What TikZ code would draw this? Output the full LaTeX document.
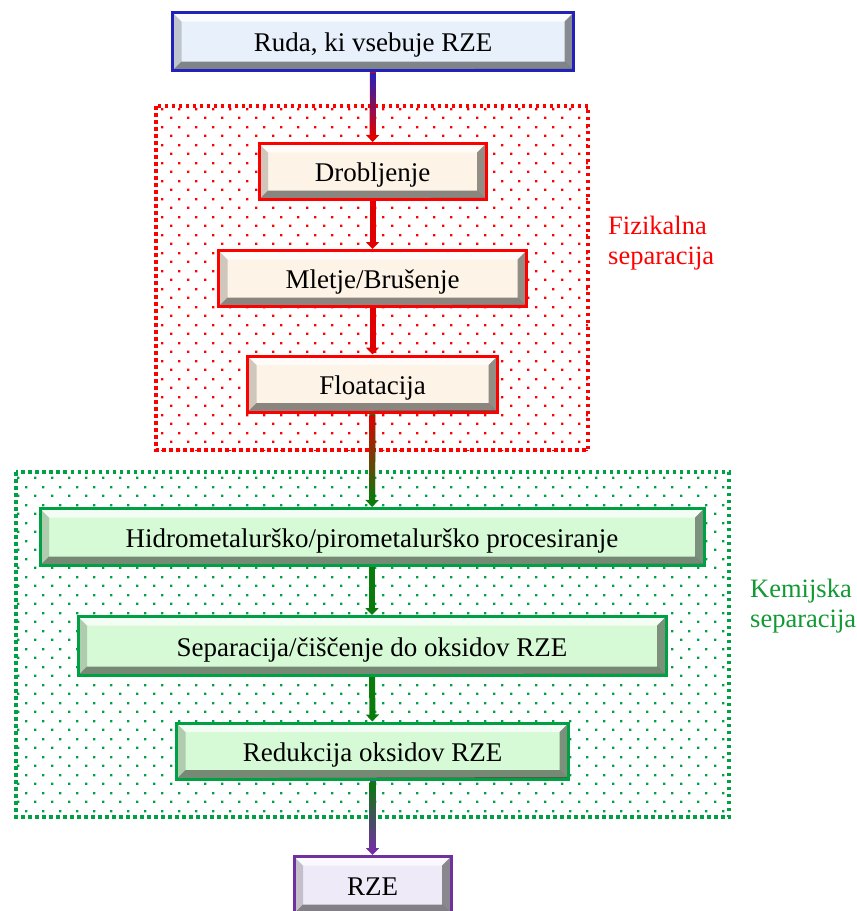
\documentclass[tikz,border=0pt]{standalone}
\usepackage{fontspec}
\setmainfont{Liberation Serif}
\usetikzlibrary{arrows.meta,calc,patterns.meta}
\definecolor{OreBlue}{HTML}{2222BB}
\definecolor{OreFill}{HTML}{E8F1FB}
\definecolor{PhysRed}{HTML}{FF0000}
\definecolor{PhysFill}{HTML}{FDF3E6}
\definecolor{ChemGreen}{HTML}{00A045}
\definecolor{ChemFill}{HTML}{D6FAD6}
\definecolor{RzePurple}{HTML}{7030A0}
\definecolor{RzeFill}{HTML}{EFEAF8}
\definecolor{ArrowRed}{HTML}{E00000}
\definecolor{ArrowGreen}{HTML}{0A7A0A}
\definecolor{LabelGreen}{HTML}{119933}

\tikzdeclarepattern{
  name=stagdots, type=uncolored,
  bottom left={(0pt,0pt)}, top right={(17pt,18pt)},
  tile size={(17pt,18pt)},
  code={\fill (0pt,0pt) rectangle (2.5pt,2.5pt); \fill (8.5pt,9pt) rectangle (11pt,11.5pt);}
}

\begin{document}
\begin{tikzpicture}[x=1pt, y=-1pt,
  bev/.style 2 args={draw=#1, fill=#2, line width=3pt, minimum height=56pt, inner sep=0pt,
    font=\fontsize{27}{30}\selectfont, text height=20pt, text depth=0pt,
    path picture={
      \path (path picture bounding box.north west) coordinate (bvnw)
            (path picture bounding box.north east) coordinate (bvne)
            (path picture bounding box.south west) coordinate (bvsw)
            (path picture bounding box.south east) coordinate (bvse);
      \fill[white, opacity=.75] (bvnw) -- (bvne) -- ($(bvne)+(-9pt,-9pt)$) -- ($(bvnw)+(9pt,-9pt)$) -- cycle;
      \fill[black, opacity=.18] (bvnw) -- ($(bvnw)+(9pt,-9pt)$) -- ($(bvsw)+(9pt,9pt)$) -- (bvsw) -- cycle;
      \fill[black, opacity=.42] (bvne) -- ($(bvne)+(-9pt,-9pt)$) -- ($(bvse)+(-9pt,9pt)$) -- (bvse) -- cycle;
      \fill[black, opacity=.45] (bvsw) -- ($(bvsw)+(9pt,9pt)$) -- ($(bvse)+(-9pt,9pt)$) -- (bvse) -- cycle;
      \draw[black, opacity=.5, line width=1.5pt] ($(bvne)+(0pt,-1pt)$) -- ($(bvse)+(0pt,1pt)$) -- ($(bvsw)+(1pt,0pt)$);
    }},
  region/.style={line width=3.5pt, dash pattern=on 3.5pt off 3.5pt},
  side/.style={font=\fontsize{26.5}{30}\selectfont, align=left, anchor=north west, inner sep=0pt},
  flow/.style={line width=6pt, draw=#1, -{Triangle[length=7pt,width=13pt]}}]
\useasboundingbox (0,0) rectangle (857,911);

% separation areas
\fill[pattern=stagdots, pattern color=PhysRed] (156,106) rectangle (588,450);
\draw[PhysRed, region] (156,106) rectangle (588,450);
\fill[pattern=stagdots, pattern color=ChemGreen] (16,472) rectangle (729,817);
\draw[ChemGreen, region] (16,472) rectangle (729,817);

\node[bev={OreBlue}{OreFill}, minimum width=401pt, minimum height=58pt] (ore) at (373,41.5) {Ruda, ki vsebuje RZE};
\node[bev={PhysRed}{PhysFill}, minimum width=227pt] (drob) at (372.5,171.5) {Drobljenje};
\node[bev={PhysRed}{PhysFill}, minimum width=308pt] (mlet) at (372.5,278.5) {Mletje/Brušenje};
\node[bev={PhysRed}{PhysFill}, minimum width=250pt] (flot) at (372.5,384) {Floatacija};
\node[bev={ChemGreen}{ChemFill}, minimum width=664pt, minimum height=57pt] (hidro) at (372,537) {Hidrometalurško/pirometalurško procesiranje};
\node[bev={ChemGreen}{ChemFill}, minimum width=588pt, minimum height=59pt] (sepa) at (372,646) {Separacija/čiščenje do oksidov RZE};
\node[bev={ChemGreen}{ChemFill}, minimum width=392pt] (redu) at (372.5,751) {Redukcija oksidov RZE};
\node[bev={RzePurple}{RzeFill}, minimum width=157pt, minimum height=57pt] (rze) at (372.5,885) {RZE};

\node[side, text=PhysRed] (physlbl) at (608,216) {Fizikalna\\separacija};
\node[side, text=LabelGreen] (chemlbl) at (750,579) {Kemijska\\separacija};

% connectors
\draw[flow=ArrowRed] (ore) -- (drob);
\shade[top color=OreBlue, middle color=magenta!85!red, bottom color=ArrowRed] ($(ore.south)+(-3pt,-1.5pt)$) rectangle ($(drob.north)+(3pt,7pt)$);
\draw[flow=ArrowRed] (drob) -- (mlet);
\draw[flow=ArrowRed] (mlet) -- (flot);
\draw[flow=ArrowGreen] (flot) -- (hidro);
\shade[top color=ArrowRed, bottom color=ArrowGreen] ($(flot.south)+(-3pt,-1.5pt)$) rectangle ($(hidro.north)+(3pt,7pt)$);
\draw[flow=ArrowGreen] (hidro) -- (sepa);
\draw[flow=ArrowGreen] (sepa) -- (redu);
\draw[flow=RzePurple] (redu) -- (rze);
\shade[top color=ArrowGreen, bottom color=RzePurple] ($(redu.south)+(-3pt,-1.5pt)$) rectangle ($(rze.north)+(3pt,7pt)$);
\end{tikzpicture}
\end{document}
